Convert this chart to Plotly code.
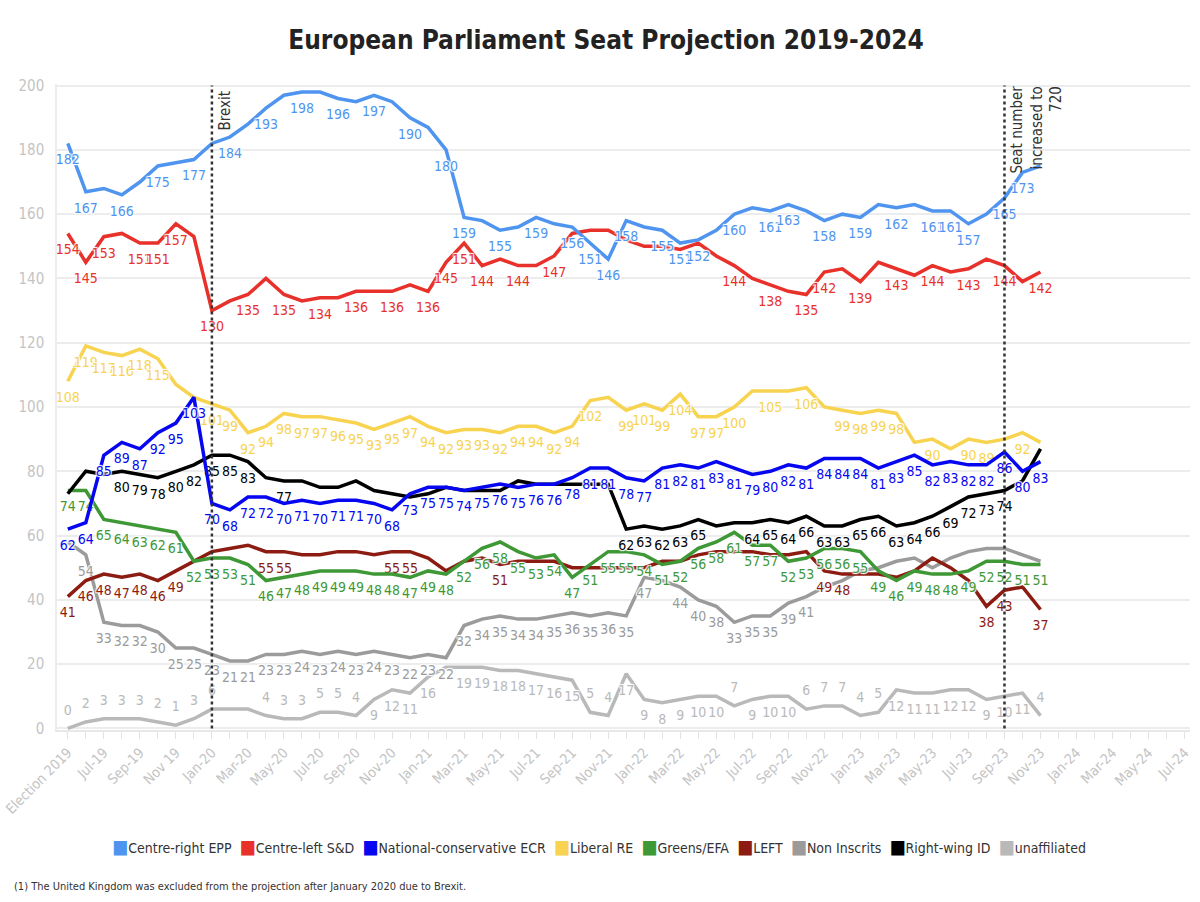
import plotly.graph_objects as go

# monthly axis, May 2019 (election) .. Jul 2024
axis_months = [
    "May-19", "Jun-19", "Jul-19", "Aug-19", "Sep-19", "Oct-19", "Nov-19", "Dec-19",
    "Jan-20", "Feb-20", "Mar-20", "Apr-20", "May-20", "Jun-20", "Jul-20", "Aug-20",
    "Sep-20", "Oct-20", "Nov-20", "Dec-20", "Jan-21", "Feb-21", "Mar-21", "Apr-21",
    "May-21", "Jun-21", "Jul-21", "Aug-21", "Sep-21", "Oct-21", "Nov-21", "Dec-21",
    "Jan-22", "Feb-22", "Mar-22", "Apr-22", "May-22", "Jun-22", "Jul-22", "Aug-22",
    "Sep-22", "Oct-22", "Nov-22", "Dec-22", "Jan-23", "Feb-23", "Mar-23", "Apr-23",
    "May-23", "Jun-23", "Jul-23", "Aug-23", "Sep-23", "Oct-23", "Nov-23", "Dec-23",
    "Jan-24", "Feb-24", "Mar-24", "Apr-24", "May-24", "Jun-24", "Jul-24",
]
months = axis_months[:55]  # projections available up to Nov-23

tick_labels = [
    "Election 2019", "Jul-19", "Sep-19", "Nov 19", "Jan-20", "Mar-20", "May-20", "Jul-20",
    "Sep-20", "Nov-20", "Jan-21", "Mar-21", "May-21", "Jul-21", "Sep-21", "Nov-21",
    "Jan-22", "Mar-22", "May-22", "Jul-22", "Sep-22", "Nov-22", "Jan-23", "Mar-23",
    "May-23", "Jul-23", "Sep-23", "Nov-23", "Jan-24", "Mar-24", "May-24", "Jul-24",
]

epp = [182, 167, 168, 166, 170, 175, 176, 177, 182, 184, 188, 193, 197, 198, 198, 196, 195, 197, 195, 190,
       187, 180, 159, 158, 155, 156, 159, 157, 156, 151, 146, 158, 156, 155, 151, 152, 155, 160, 162, 161,
       163, 161, 158, 160, 159, 163, 162, 163, 161, 161, 157, 160, 165, 173, 175]
snd = [154, 145, 153, 154, 151, 151, 157, 153, 130, 133, 135, 140, 135, 133, 134, 134, 136, 136, 136, 138,
       136, 145, 151, 144, 146, 144, 144, 147, 154, 155, 155, 152, 150, 150, 149, 151, 147, 144, 140, 138,
       136, 135, 142, 143, 139, 145, 143, 141, 144, 142, 143, 146, 144, 139, 142]
ecr = [62, 64, 85, 89, 87, 92, 95, 103, 70, 68, 72, 72, 70, 71, 70, 71, 71, 70, 68, 73,
       75, 75, 74, 75, 76, 75, 76, 76, 78, 81, 81, 78, 77, 81, 82, 81, 83, 81, 79, 80,
       82, 81, 84, 84, 84, 81, 83, 85, 82, 83, 82, 82, 86, 80, 83]
renew = [108, 119, 117, 116, 118, 115, 107, 103, 101, 99, 92, 94, 98, 97, 97, 96, 95, 93, 95, 97,
         94, 92, 93, 93, 92, 94, 94, 92, 94, 102, 103, 99, 101, 99, 104, 97, 97, 100, 105, 105,
         105, 106, 100, 99, 98, 99, 98, 89, 90, 87, 90, 89, 90, 92, 89]
greens = [74, 74, 65, 64, 63, 62, 61, 52, 53, 53, 51, 46, 47, 48, 49, 49, 49, 48, 48, 47,
          49, 48, 52, 56, 58, 55, 53, 54, 47, 51, 55, 55, 54, 51, 52, 56, 58, 61, 57, 57,
          52, 53, 56, 56, 55, 49, 46, 49, 48, 48, 49, 52, 52, 51, 51]
left = [41, 46, 48, 47, 48, 46, 49, 52, 55, 56, 57, 55, 55, 54, 54, 55, 55, 54, 55, 55,
        53, 49, 52, 53, 51, 52, 52, 52, 50, 50, 50, 50, 50, 52, 52, 54, 55, 55, 55, 54,
        54, 55, 49, 48, 48, 48, 47, 49, 53, 50, 46, 38, 43, 44, 37]
non_inscrits = [58, 54, 33, 32, 32, 30, 25, 25, 23, 21, 21, 23, 23, 24, 23, 24, 23, 24, 23, 22,
                23, 22, 32, 34, 35, 34, 34, 35, 36, 35, 36, 35, 47, 46, 44, 40, 38, 33, 35, 35,
                39, 41, 44, 46, 49, 50, 52, 53, 50, 53, 55, 56, 56, 54, 52]
id_group = [73, 80, 79, 80, 79, 78, 80, 82, 85, 85, 83, 78, 77, 77, 75, 75, 77, 74, 73, 72,
            73, 75, 74, 74, 74, 77, 76, 76, 76, 76, 76, 62, 63, 62, 63, 65, 63, 64, 64, 65,
            64, 66, 63, 63, 65, 66, 63, 64, 66, 69, 72, 73, 74, 77, 87]
unaffiliated = [0, 2, 3, 3, 3, 2, 1, 3, 6, 6, 6, 4, 3, 3, 5, 5, 4, 9, 12, 11,
                16, 19, 19, 19, 18, 18, 17, 16, 15, 5, 4, 17, 9, 8, 9, 10, 10, 7, 9, 10,
                10, 6, 7, 7, 4, 5, 12, 11, 11, 12, 12, 9, 10, 11, 4]

# which points carry a value label (index into months)
ALL = list(range(55))
epp_lab = [0, 1, 3, 5, 7, 9, 11, 13, 15, 17, 19, 21, 22, 24, 26, 28, 29, 30, 31, 33, 34, 35, 37,
           39, 40, 42, 44, 46, 48, 49, 50, 52, 53]
snd_lab = [0, 1, 2, 4, 5, 6, 8, 10, 12, 14, 16, 18, 20, 21, 22, 23, 25, 27, 37, 39, 41, 42, 44,
           46, 48, 50, 52, 54]
renew_lab = [0, 1, 2, 3, 4, 5, 8, 9, 10, 11, 12, 13, 14, 15, 16, 17, 18, 19, 20, 21, 22, 23, 24,
             25, 26, 27, 28, 29, 31, 32, 33, 34, 35, 36, 37, 39, 41, 43, 44, 45, 46, 48, 50, 51, 53]
id_lab = [3, 4, 5, 6, 7, 8, 9, 10, 12, 31, 32, 33, 34, 35, 38, 39, 40, 41, 42, 43, 44, 45, 46,
          47, 48, 49, 50, 51, 52]
left_lab = [0, 1, 2, 3, 4, 5, 6, 11, 12, 18, 19, 24, 42, 43, 51, 52, 54]
ni_lab = list(range(1, 33)) + [34, 35, 36, 37, 38, 39, 40, 41]
unaff_lab = [i for i in ALL if i not in (9, 10, 21)]
unaff_above = [0, 1, 2, 3, 4, 5, 6, 7, 8, 11, 12, 13, 14, 15, 16, 29, 30, 37, 41, 42, 43, 44, 45, 54]

FONT = "DejaVu Sans Condensed, Roboto Condensed, Liberation Sans Narrow, Roboto, sans-serif"
HALO = "1px 1px 1px #fff, -1px -1px 1px #fff, 1px -1px 1px #fff, -1px 1px 1px #fff"

series = [
    # name, values, colour, labelled points
    ("unaffiliated", unaffiliated, "#b9b9b9", unaff_lab),
    ("Non Inscrits", non_inscrits, "#9b9b9b", ni_lab),
    ("LEFT", left, "#8c1b12", left_lab),
    ("Greens/EFA", greens, "#3e9836", ALL),
    ("Right-wing ID", id_group, "#000000", id_lab),
    ("Liberal RE", renew, "#f7d350", renew_lab),
    ("National-conservative ECR", ecr, "#0606f0", ALL),
    ("Centre-left S&D", snd, "#e8312a", snd_lab),
    ("Centre-right EPP", epp, "#4f95ef", epp_lab),
]
legend_order = ["Centre-right EPP", "Centre-left S&D", "National-conservative ECR", "Liberal RE",
                "Greens/EFA", "LEFT", "Non Inscrits", "Right-wing ID", "unaffiliated"]
colours = {name: col for name, _, col, _ in series}

fig = go.Figure()

for name, vals, col, lab in series:
    text = [str(v) if i in lab else "" for i, v in enumerate(vals)]
    if name == "unaffiliated":
        pos = ["top center" if i in unaff_above else "bottom center" for i in range(len(vals))]
    else:
        pos = "bottom center"
    # invisible markers only serve to push the value labels off the line
    fig.add_trace(go.Scatter(
        x=months, y=vals, name=name, mode="lines+markers+text",
        line=dict(color=col, width=3.5),
        marker=dict(size=15, color="rgba(0,0,0,0)"),
        text=text, textposition=pos,
        textfont=dict(family=FONT, size=14, color=col, shadow=HALO),
        showlegend=False, hoverinfo="x+y+name",
    ))

ticktext = []
for i in range(len(axis_months)):
    ticktext.append(tick_labels[i // 2] if i % 2 == 0 else "")

for m in ["Jan-20", "Sep-23"]:
    xi = axis_months.index(m)
    fig.add_shape(type="line", xref="x", yref="y", x0=xi, x1=xi, y0=0, y1=200,
                  line=dict(color="#333", width=2.5, dash="dot"))

fig.add_annotation(x=axis_months.index("Jan-20"), y=200, xref="x", yref="y",
                   text="Brexit", textangle=-90, showarrow=False,
                   xanchor="left", yanchor="top", xshift=2, yshift=-3,
                   font=dict(family=FONT, size=15, color="#333"))
fig.add_annotation(x=axis_months.index("Sep-23"), y=200, xref="x", yref="y",
                   text="Seat number<br>increased to<br>720", textangle=-90, showarrow=False,
                   align="right", xanchor="left", yanchor="top", xshift=2, yshift=2,
                   font=dict(family=FONT, size=15, color="#333"))

# legend row: coloured swatch + name, built from the series colours
legend_text = "&nbsp;&nbsp;".join(
    f"<span style='color:{colours[n]};font-size:19px'>■</span>{n}" for n in legend_order
)
fig.add_annotation(x=0.478, y=-0.18, xref="paper", yref="paper", xanchor="center", yanchor="middle",
                   text=legend_text, showarrow=False,
                   font=dict(family=FONT, size=14, color="#333"))
fig.add_annotation(x=-0.04, y=-0.243, xref="paper", yref="paper", xanchor="left", yanchor="middle",
                   text="(1) The United Kingdom was excluded from the projection after January 2020 due to Brexit.",
                   showarrow=False, font=dict(family=FONT, size=11, color="#333"))

fig.update_layout(
    width=1200, height=902,
    margin=dict(l=57, r=10, t=84, b=172),
    plot_bgcolor="white", paper_bgcolor="white",
    showlegend=False,
    title=dict(text="<b>European Parliament Seat Projection 2019-2024</b>",
               x=0.505, xanchor="center", y=0.956, yanchor="middle",
               font=dict(family=FONT, size=26, color="#222")),
    font=dict(family=FONT),
    xaxis=dict(type="category", categoryorder="array", categoryarray=axis_months,
               range=[-0.6, 62.3], tickmode="array", tickvals=axis_months, ticktext=ticktext,
               tickangle=-45, ticks="outside", ticklen=7, tickcolor="#e2e2e2",
               showgrid=False, showline=True, linecolor="#e8e8e8", linewidth=2,
               automargin=False,
               tickfont=dict(family=FONT, size=14, color="#c4c4c4")),
    yaxis=dict(range=[-0.5, 200.5], tickvals=[0, 20, 40, 60, 80, 100, 120, 140, 160, 180, 200],
               showgrid=True, gridcolor="#ececec", gridwidth=2, zeroline=False,
               showline=True, linecolor="#ececec", linewidth=1.5,
               ticks="", ticklabelstandoff=8, automargin=False,
               tickfont=dict(family=FONT, size=15, color="#c4c4c4")),
)

# drop the browser's default page margin so the figure sits at the window corner
fig.write_html("out.html", config={"displayModeBar": False},
               post_script="document.body.style.margin = '0';")
